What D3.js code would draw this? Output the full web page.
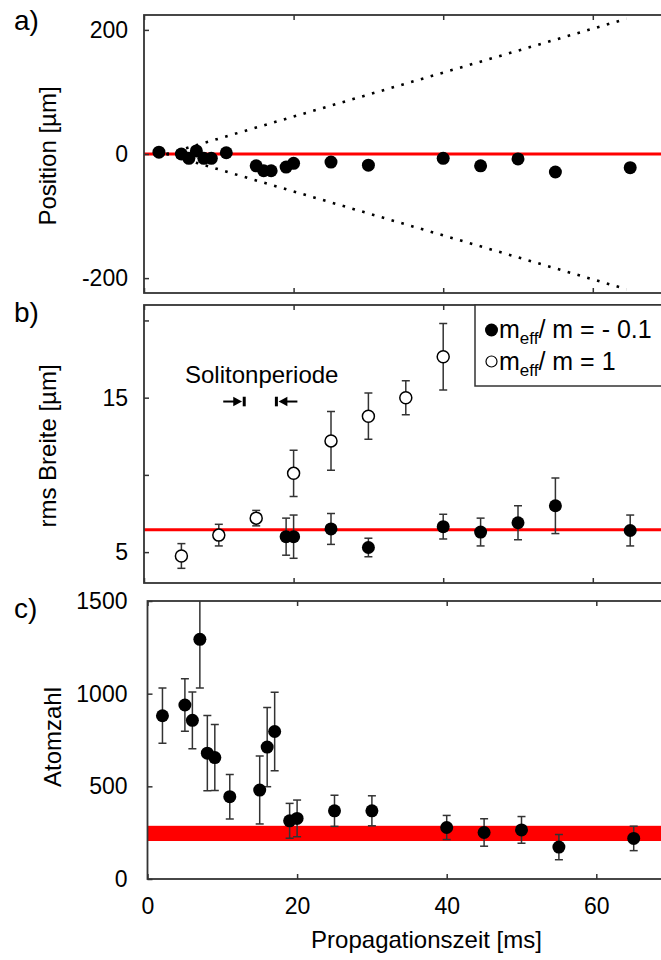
<!DOCTYPE html>
<html>
<head>
<meta charset="utf-8">
<script src="https://cdn.jsdelivr.net/npm/d3@7"></script>
<style>
  body { margin: 0; background: #fff; }
  svg text { font-family: "Liberation Sans", Arial, sans-serif; fill: #000; }
</style>
</head>
<body>
<div id="chart"></div>
<script>
// Data
var timeA = [2, 5, 6, 7, 8, 9, 11, 15, 16, 17, 19, 20, 25, 30, 40, 45, 50, 55, 65];
var posA = [3, 0, -7, 5, -7, -7, 2, -19, -27, -27, -21, -15, -13, -18, -7, -19, -8, -29, -22];
var spreadTime = [3, 64.5];
var spreadPos = [0, 218];

var timeFilled = [19, 20, 25, 30, 40, 45, 50, 55, 65];
var widthFilled = [6.0, 6.0, 6.5, 5.3, 6.65, 6.3, 6.9, 8.0, 6.4];
var errFilled = [1.2, 1.4, 1.0, 0.6, 0.8, 0.9, 1.1, 1.8, 1.0];
var timeOpen = [5, 10, 15, 20, 25, 30, 35, 40];
var widthOpen = [4.75, 6.1, 7.2, 10.1, 12.2, 13.8, 15.0, 17.65];
var errOpen = [0.8, 0.7, 0.5, 1.5, 1.9, 1.5, 1.1, 2.15];
var fitWidth = 6.45;
var solitonMarks = [13.4, 17.7];

var timeC = [2, 5, 6, 7, 8, 9, 11, 15, 16, 17, 19, 20, 25, 30, 40, 45, 50, 55, 65];
var atomsC = [881, 939, 856, 1293, 679, 655, 444, 480, 712, 796, 314, 327, 368, 368, 278, 251, 265, 172, 219];
var errC = [149, 142, 153, 262, 203, 178, 120, 183, 214, 212, 94, 99, 84, 81, 65, 74, 72, 68, 66];
var atomBand = [205, 287];

var xTicks = [0, 20, 40, 60];

var svgWidth = 661;
var svgHeight = 960;
var pxPerMs = 7.48;
var xMax = 70;

var svg = d3.select("#chart")
    .append("svg")
    .attr("width", svgWidth)
    .attr("height", svgHeight);

var frameColor = "#333";

// plain hyphen for negative numbers, like the original figure
function plainNum(d) { return String(d); }

// Build one panel: scales, clip, frame and inward ticks
function makePanel(id, left, top, bottom, yDomain, yTicks, yFormat, labelPad) {
    var x = d3.scaleLinear().domain([0, xMax]).range([left, left + xMax * pxPerMs]);
    var y = d3.scaleLinear().domain(yDomain).range([bottom, top]);

    svg.append("clipPath").attr("id", "clip-" + id)
        .append("rect")
        .attr("x", left).attr("y", top)
        .attr("width", xMax * pxPerMs).attr("height", bottom - top);

    var g = svg.append("g").attr("clip-path", "url(#clip-" + id + ")");

    var axes = svg.append("g").attr("class", "axes");

    axes.append("g")
        .attr("transform", "translate(" + left + ",0)")
        .call(d3.axisLeft(y).tickValues(yTicks).tickSizeInner(-5).tickSizeOuter(0)
            .tickPadding(labelPad).tickFormat(yFormat))
        .call(function (s) {
            s.select(".domain").remove();
            s.selectAll("line").attr("stroke", frameColor).attr("stroke-width", 1.5);
            s.selectAll("text").attr("font-size", 23).attr("fill", "#000")
                .attr("font-family", "Liberation Sans, Arial, sans-serif");
        });

    axes.append("g")
        .attr("transform", "translate(0," + top + ")")
        .call(d3.axisTop(x).tickValues(xTicks).tickSizeInner(-5).tickSizeOuter(0).tickFormat(""))
        .call(function (s) {
            s.select(".domain").remove();
            s.selectAll("line").attr("stroke", frameColor).attr("stroke-width", 1.5);
        });

    axes.append("rect")
        .attr("x", left).attr("y", top)
        .attr("width", xMax * pxPerMs).attr("height", bottom - top)
        .attr("fill", "none")
        .attr("stroke", frameColor)
        .attr("stroke-width", 1.8);

    return { x: x, y: y, g: g, axes: axes, left: left, top: top, bottom: bottom };
}

function errorBars(panel, xs, ys, es) {
    var cap = 4;
    var bars = panel.g.append("g")
        .attr("stroke", "#333")
        .attr("stroke-width", 1.5)
        .attr("fill", "none");
    xs.forEach(function (t, i) {
        var cx = panel.x(t);
        var hi = panel.y(ys[i] + es[i]);
        var lo = panel.y(ys[i] - es[i]);
        bars.append("line").attr("x1", cx).attr("x2", cx).attr("y1", hi).attr("y2", lo);
        bars.append("line").attr("x1", cx - cap).attr("x2", cx + cap).attr("y1", hi).attr("y2", hi);
        bars.append("line").attr("x1", cx - cap).attr("x2", cx + cap).attr("y1", lo).attr("y2", lo);
    });
}

// ---------- Panel a ----------
var pa = makePanel("a", 144, 15, 293, [-224, 224], [-200, 0, 200], plainNum, 16);

pa.g.append("line")
    .attr("x1", pa.x(0)).attr("x2", pa.x(xMax))
    .attr("y1", pa.y(0)).attr("y2", pa.y(0))
    .attr("stroke", "#ff0000").attr("stroke-width", 3);

[1, -1].forEach(function (sign) {
    pa.g.append("line")
        .attr("x1", pa.x(spreadTime[0])).attr("y1", pa.y(sign * spreadPos[0]))
        .attr("x2", pa.x(spreadTime[1])).attr("y2", pa.y(sign * spreadPos[1]))
        .attr("stroke", "#000")
        .attr("stroke-width", 2.6)
        .attr("stroke-dasharray", "2.6 7.6");
});

pa.g.selectAll("circle.pos")
    .data(timeA)
    .enter()
    .append("circle")
    .attr("class", "pos")
    .attr("cx", function (d) { return pa.x(d); })
    .attr("cy", function (d, i) { return pa.y(posA[i]); })
    .attr("r", 6.5)
    .attr("fill", "#000");

// ---------- Panel b ----------
var pb = makePanel("b", 144, 305, 583, [3, 21], [5, 10, 15, 20],
    function (d) { return d % 10 === 5 ? d : ""; }, 16);

pb.g.append("line")
    .attr("x1", pb.x(0)).attr("x2", pb.x(xMax))
    .attr("y1", pb.y(fitWidth)).attr("y2", pb.y(fitWidth))
    .attr("stroke", "#ff0000").attr("stroke-width", 3);

errorBars(pb, timeOpen, widthOpen, errOpen);
errorBars(pb, timeFilled, widthFilled, errFilled);

pb.g.selectAll("circle.open")
    .data(timeOpen)
    .enter()
    .append("circle")
    .attr("class", "open")
    .attr("cx", function (d) { return pb.x(d); })
    .attr("cy", function (d, i) { return pb.y(widthOpen[i]); })
    .attr("r", 6)
    .attr("fill", "#fff")
    .attr("stroke", "#000")
    .attr("stroke-width", 1.5);

pb.g.selectAll("circle.filled")
    .data(timeFilled)
    .enter()
    .append("circle")
    .attr("class", "filled")
    .attr("cx", function (d) { return pb.x(d); })
    .attr("cy", function (d, i) { return pb.y(widthFilled[i]); })
    .attr("r", 6.5)
    .attr("fill", "#000");

// Soliton period annotation
pb.axes.append("text")
    .attr("x", 185).attr("y", 383)
    .attr("font-size", 24)
    .text("Solitonperiode");

var markY = pb.y(14.75);
var m1 = pb.x(solitonMarks[0]);
var m2 = pb.x(solitonMarks[1]);
var ann = pb.axes.append("g").attr("fill", "#000").attr("stroke", "#000");
ann.append("line").attr("x1", m1 - 21).attr("x2", m1 - 10).attr("y1", markY).attr("y2", markY).attr("stroke-width", 2);
ann.append("path").attr("d", "M" + (m1 - 11) + "," + (markY - 4.8) + "L" + (m1 - 2.2) + "," + markY + "L" + (m1 - 11) + "," + (markY + 4.8) + "Z").attr("stroke", "none");
ann.append("line").attr("x1", m1).attr("x2", m1).attr("y1", markY - 4.8).attr("y2", markY + 4.8).attr("stroke-width", 3);
ann.append("line").attr("x1", m2).attr("x2", m2).attr("y1", markY - 4.8).attr("y2", markY + 4.8).attr("stroke-width", 3);
ann.append("path").attr("d", "M" + (m2 + 2.2) + "," + markY + "L" + (m2 + 11) + "," + (markY - 4.8) + "L" + (m2 + 11) + "," + (markY + 4.8) + "Z").attr("stroke", "none");
ann.append("line").attr("x1", m2 + 10).attr("x2", m2 + 21).attr("y1", markY).attr("y2", markY).attr("stroke-width", 2);

// Legend
var legend = pb.axes.append("g");
legend.append("rect")
    .attr("x", 475).attr("y", 305)
    .attr("width", 200).attr("height", 81)
    .attr("fill", "#fff")
    .attr("stroke", frameColor)
    .attr("stroke-width", 1.5);

var legendRows = [
    { label: "= - 0.1", filled: true, cy: 330 },
    { label: "= 1", filled: false, cy: 361.5 }
];
legendRows.forEach(function (row) {
    legend.append("circle")
        .attr("cx", 491.5).attr("cy", row.cy)
        .attr("r", row.filled ? 6.5 : 5.5)
        .attr("fill", row.filled ? "#000" : "#fff")
        .attr("stroke", "#000")
        .attr("stroke-width", row.filled ? 0 : 1.2);
    var t = legend.append("text")
        .attr("x", 499).attr("y", row.cy + 8)
        .attr("font-size", 25);
    t.append("tspan").text("m");
    t.append("tspan").attr("dy", 6).attr("font-size", 17).text("eff");
    t.append("tspan").attr("dy", -6).text("/ m " + row.label);
});

// ---------- Panel c ----------
var pc = makePanel("c", 147.5, 601, 879, [0, 1500], [0, 500, 1000, 1500], plainNum, 20);

pc.g.append("rect")
    .attr("x", pc.x(0))
    .attr("y", pc.y(atomBand[1]))
    .attr("width", pc.x(xMax) - pc.x(0))
    .attr("height", pc.y(atomBand[0]) - pc.y(atomBand[1]))
    .attr("fill", "#ff0000");

errorBars(pc, timeC, atomsC, errC);

pc.g.selectAll("circle.atoms")
    .data(timeC)
    .enter()
    .append("circle")
    .attr("class", "atoms")
    .attr("cx", function (d) { return pc.x(d); })
    .attr("cy", function (d, i) { return pc.y(atomsC[i]); })
    .attr("r", 6.5)
    .attr("fill", "#000");

// bottom x axis with labels
svg.append("g")
    .attr("transform", "translate(0," + pc.bottom + ")")
    .call(d3.axisBottom(pc.x).tickValues(xTicks).tickSizeInner(-5).tickSizeOuter(0).tickPadding(19))
    .call(function (s) {
        s.select(".domain").remove();
        s.selectAll("line").attr("stroke", frameColor).attr("stroke-width", 1.5);
        s.selectAll("text").attr("font-size", 23).attr("fill", "#000")
            .attr("font-family", "Liberation Sans, Arial, sans-serif");
    });

// inward bottom ticks on panels a and b
[pa, pb].forEach(function (p) {
    svg.append("g")
        .attr("transform", "translate(0," + p.bottom + ")")
        .call(d3.axisBottom(p.x).tickValues(xTicks).tickSizeInner(-5).tickSizeOuter(0).tickFormat(""))
        .call(function (s) {
            s.select(".domain").remove();
            s.selectAll("line").attr("stroke", frameColor).attr("stroke-width", 1.5);
        });
});

// ---------- Titles ----------
var titles = [
    { text: "Position [µm]", x: 56, y: 156 },
    { text: "rms Breite [µm]", x: 56, y: 446 },
    { text: "Atomzahl", x: 61, y: 737 }
];
titles.forEach(function (t) {
    svg.append("text")
        .attr("transform", "translate(" + t.x + "," + t.y + ") rotate(-90)")
        .attr("text-anchor", "middle")
        .attr("font-size", 24)
        .text(t.text);
});

svg.append("text")
    .attr("x", 426.5).attr("y", 948)
    .attr("text-anchor", "middle")
    .attr("font-size", 24)
    .text("Propagationszeit [ms]");

var panelLabels = [
    { text: "a)", y: 30 },
    { text: "b)", y: 322 },
    { text: "c)", y: 618 }
];
panelLabels.forEach(function (p) {
    svg.append("text")
        .attr("x", 14).attr("y", p.y)
        .attr("font-size", 28)
        .text(p.text);
});
</script>
</body>
</html>
